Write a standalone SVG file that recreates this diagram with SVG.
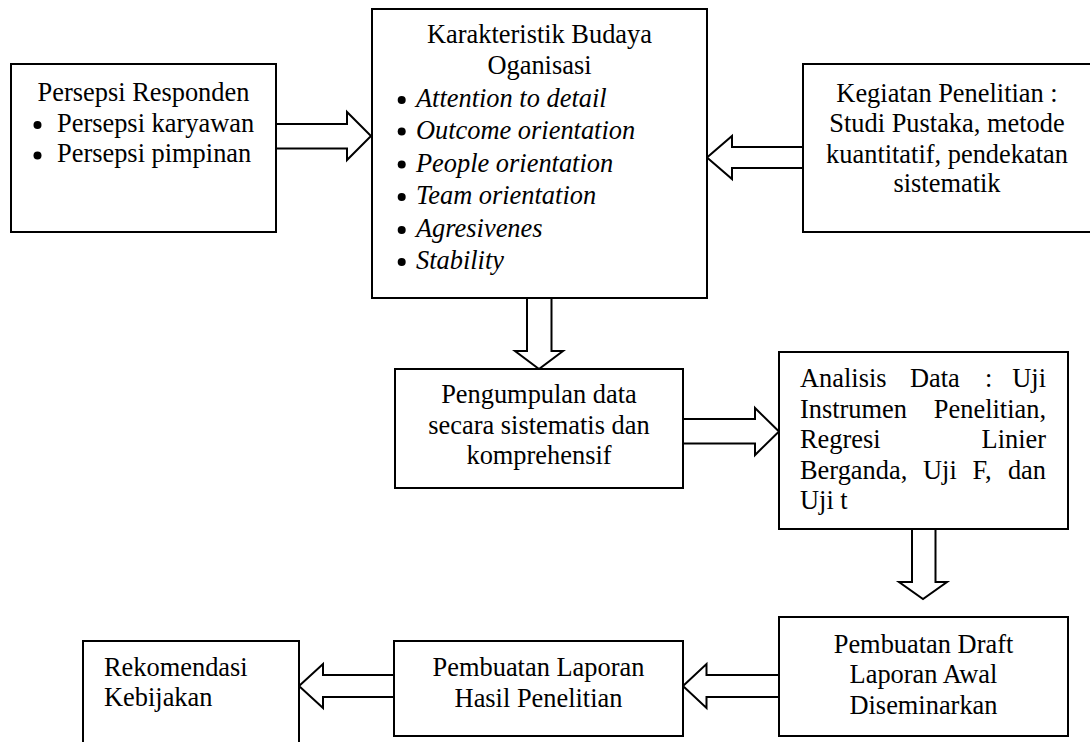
<svg xmlns="http://www.w3.org/2000/svg" width="1090" height="742" viewBox="0 0 1090 742">
<style>
  .box { fill: #ffffff; stroke: #000000; stroke-width: 2; }
  .arr { fill: #ffffff; stroke: #000000; stroke-width: 2; stroke-linejoin: miter; }
  text { font-family: "Liberation Serif", "Times New Roman", serif; font-size: 26.4px; fill: #000000; }
  .c { text-anchor: middle; }
  .i { font-style: italic; }
  .dot { fill: #000000; }
</style>
<rect width="1090" height="742" fill="#ffffff"/>

<g id="connectors">
  <polygon class="arr" points="276,124 347,124 347,112 371,136 347,160 347,148.5 276,148.5"/>
  <polygon class="arr" points="803,147 732,147 732,136 707,157.5 732,179 732,168 803,168"/>
  <polygon class="arr" points="527,298 527,351 515,351 539,369 563,351 551.5,351 551.5,298"/>
  <polygon class="arr" points="683,419 755,419 755,408 779,431.5 755,455 755,443.5 683,443.5"/>
  <polygon class="arr" points="912,529 912,582 899,582 923,599 947,582 935.5,582 935.5,529"/>
  <polygon class="arr" points="779,675 706.5,675 706.5,664 683,686 706.5,708 706.5,697 779,697"/>
  <polygon class="arr" points="394,675 323,675 323,664 299,686 323,708 323,697 394,697"/>
</g>

<g id="persepsi-responden">
  <rect class="box" x="11" y="64" width="265" height="168"/>
  <text class="c" x="143.5" y="100.5">Persepsi Responden</text>
  <circle class="dot" cx="37.5" cy="125" r="4"/>
  <text x="57" y="131.5">Persepsi karyawan</text>
  <circle class="dot" cx="37.5" cy="155.5" r="4"/>
  <text x="57" y="162">Persepsi pimpinan</text>
</g>

<g id="karakteristik-budaya">
  <rect class="box" x="372" y="9" width="335" height="289"/>
  <text class="c" x="539.5" y="43">Karakteristik Budaya</text>
  <text class="c" x="539.5" y="74">Oganisasi</text>
  <circle class="dot" cx="401.7" cy="100" r="4"/>
  <text class="i" x="416" y="107">Attention to detail</text>
  <circle class="dot" cx="401.7" cy="131.5" r="4"/>
  <text class="i" x="416" y="138.5">Outcome orientation</text>
  <circle class="dot" cx="401.7" cy="164.5" r="4"/>
  <text class="i" x="416" y="171.5">People orientation</text>
  <circle class="dot" cx="401.7" cy="197" r="4"/>
  <text class="i" x="416" y="204">Team orientation</text>
  <circle class="dot" cx="401.7" cy="230" r="4"/>
  <text class="i" x="416" y="237">Agresivenes</text>
  <circle class="dot" cx="401.7" cy="262" r="4"/>
  <text class="i" x="416" y="269">Stability</text>
</g>

<g id="kegiatan-penelitian">
  <rect class="box" x="803" y="64" width="290" height="168"/>
  <text class="c" x="947" y="101.5">Kegiatan Penelitian :</text>
  <text class="c" x="947" y="132">Studi Pustaka, metode</text>
  <text class="c" x="947" y="162.5">kuantitatif, pendekatan</text>
  <text class="c" x="947" y="192">sistematik</text>
</g>

<g id="pengumpulan-data">
  <rect class="box" x="395" y="369" width="288" height="119"/>
  <text class="c" x="539" y="403">Pengumpulan data</text>
  <text class="c" x="539" y="433.5">secara sistematis dan</text>
  <text class="c" x="539" y="464">komprehensif</text>
</g>

<g id="analisis-data">
  <rect class="box" x="779" y="352" width="289" height="177"/>
  <text y="387"><tspan x="800">Analisis</tspan><tspan x="910">Data</tspan><tspan x="985">:</tspan><tspan x="1046" text-anchor="end">Uji</tspan></text>
  <text y="417.5"><tspan x="800">Instrumen</tspan><tspan x="1046" text-anchor="end">Penelitian,</tspan></text>
  <text y="448"><tspan x="800">Regresi</tspan><tspan x="1046" text-anchor="end">Linier</tspan></text>
  <text y="478.5"><tspan x="800">Berganda,</tspan><tspan x="923">Uji</tspan><tspan x="972.5">F,</tspan><tspan x="1046" text-anchor="end">dan</tspan></text>
  <text x="800" y="509">Uji t</text>
</g>

<g id="pembuatan-draft">
  <rect class="box" x="779" y="617" width="289" height="119"/>
  <text class="c" x="923.5" y="653">Pembuatan Draft</text>
  <text class="c" x="923.5" y="683">Laporan Awal</text>
  <text class="c" x="923.5" y="713.5">Diseminarkan</text>
</g>

<g id="pembuatan-laporan">
  <rect class="box" x="394" y="641" width="289" height="95"/>
  <text class="c" x="538.5" y="676">Pembuatan Laporan</text>
  <text class="c" x="538.5" y="706.5">Hasil Penelitian</text>
</g>

<g id="rekomendasi-kebijakan">
  <rect class="box" x="83" y="641" width="216" height="130"/>
  <text x="104" y="675.5">Rekomendasi</text>
  <text x="104" y="706">Kebijakan</text>
</g>
</svg>
